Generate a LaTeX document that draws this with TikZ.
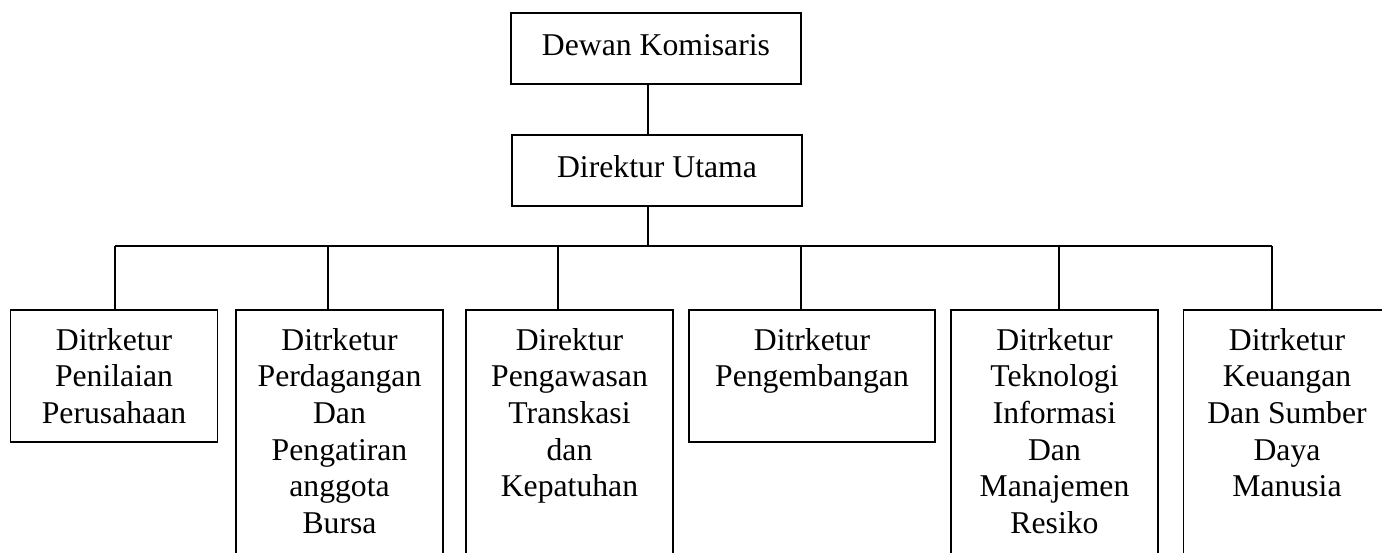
\documentclass[tikz,border=0pt]{standalone}
\usepackage{fontspec}
\setmainfont{Liberation Serif}
\usepackage{tikz}

\begin{document}
\begin{tikzpicture}[x=1pt, y=-1pt, line width=1.6pt,
		kotak/.style={draw, minimum width=290pt, minimum height=71pt, inner sep=0pt,
			text height=21.7pt, text depth=8pt, font=\fontsize{31.7}{36.7}\selectfont},
		direksi/.style={draw, anchor=north, minimum width=207pt, inner sep=0pt},
		isi/.style={anchor=north, yshift=-18.4pt, align=center, inner sep=0pt,
			font=\fontsize{31.7}{36.7}\selectfont}]
		\useasboundingbox (0,0) rectangle (1382,553);
		\clip (0,0) rectangle (1382,553);
		
		% Pimpinan
		\node[kotak] (dk) at (656,48.5) {Dewan Komisaris};
		\node[kotak] (du) at (657,170.5) {Direktur Utama};
		
		% Para direktur
		\node[direksi, minimum height=132pt] (d1) at (114,309)
			[label={[isi]north:{Ditrketur\\Penilaian\\Perusahaan}}] {};
		\node[direksi, minimum height=260pt] (d2) at (339.5,309)
			[label={[isi]north:{Ditrketur\\Perdagangan\\Dan\\Pengatiran\\anggota\\Bursa}}] {};
		\node[direksi, minimum height=260pt] (d3) at (569.5,309)
			[label={[isi]north:{Direktur\\Pengawasan\\Transkasi\\dan\\Kepatuhan}}] {};
		\node[direksi, minimum height=132pt, minimum width=246pt] (d4) at (812,309)
			[label={[isi]north:{Ditrketur\\Pengembangan}}] {};
		\node[direksi, minimum height=260pt] (d5) at (1054.5,309)
			[label={[isi]north:{Ditrketur\\Teknologi\\Informasi\\Dan\\Manajemen\\Resiko}}] {};
		\node[direksi, minimum height=260pt] (d6) at (1287,309)
			[label={[isi]north:{Ditrketur\\Keuangan\\Dan Sumber\\Daya\\Manusia}}] {};
		
		% Garis penghubung
		\coordinate (p) at (648,246);
		\coordinate (t1) at (115,246);
		\coordinate (t2) at (328,246);
		\coordinate (t3) at (558,246);
		\coordinate (t4) at (801,246);
		\coordinate (t5) at (1059,246);
		\coordinate (t6) at (1272,246);
		\draw (p |- dk.south) -- (p |- du.north);
		\draw (p |- du.south) -- (p);
		\draw (t1) -- (t6);
		\draw (t1) -- (t1 |- d1.north);
		\draw (t2) -- (t2 |- d2.north);
		\draw (t3) -- (t3 |- d3.north);
		\draw (t4) -- (t4 |- d4.north);
		\draw (t5) -- (t5 |- d5.north);
		\draw (t6) -- (t6 |- d6.north);
\end{tikzpicture}
\end{document}
